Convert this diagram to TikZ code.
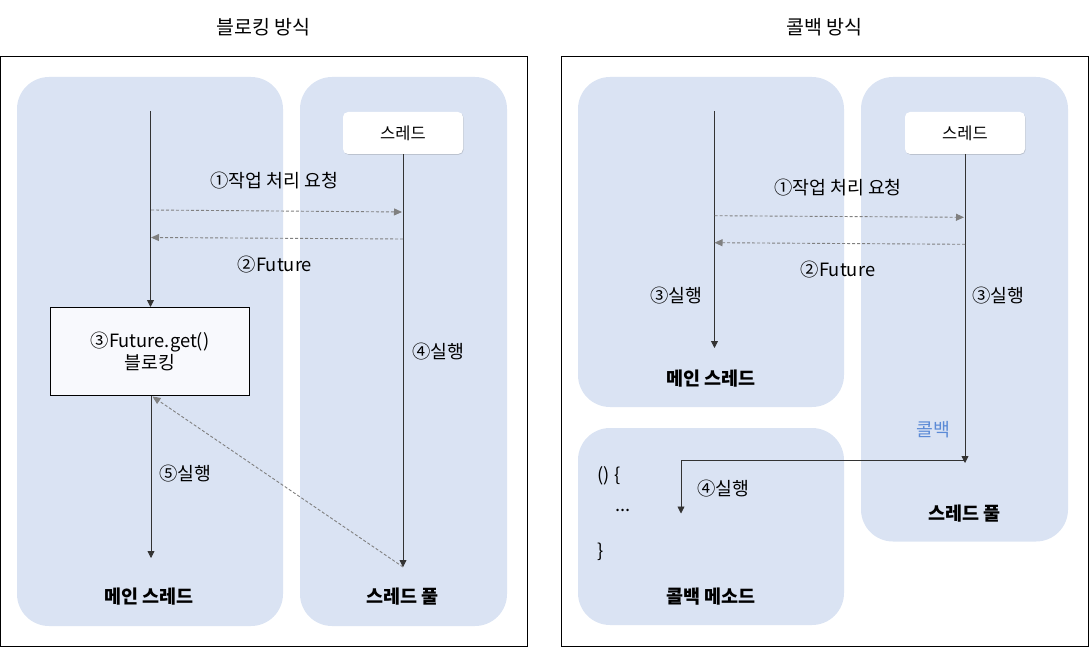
\documentclass[tikz,border=0pt]{standalone}
\usepackage{fontspec}
\setmainfont{Noto Sans CJK KR}
\usetikzlibrary{arrows.meta,shadows}
\definecolor{panelc}{HTML}{DAE3F3}
\definecolor{boxc}{HTML}{F8F9FD}
\definecolor{linec}{HTML}{333333}
\definecolor{dashc}{HTML}{808080}
\definecolor{cbblue}{HTML}{5B8AD6}
\begin{document}
\begin{tikzpicture}[x=1pt,y=-1pt,
  frame/.style={draw=black,line width=1pt},
  panel/.style={fill=panelc,rounded corners=32pt},
  lbl/.style={font=\fontsize{18.3}{21}\selectfont,inner sep=0pt},
  ttl/.style={font=\fontsize{19.5}{23}\selectfont,inner sep=0pt},
  bold/.style={font=\fontsize{18.5}{22}\selectfont\bfseries,inner sep=0pt},
  thr/.style={fill=white,rounded corners=5pt,minimum width=120pt,minimum height=42pt,inner sep=0pt,
    font=\fontsize{16.5}{19}\selectfont,drop shadow={shadow xshift=0.6pt,shadow yshift=-0.8pt,opacity=0.25,fill=black!60}},
  flow/.style={draw=linec,line width=0.8pt,-{Triangle[width=7pt,length=7pt]}},
  dflow/.style={draw=dashc,line width=0.9pt,dash pattern=on 3pt off 2pt,-{Triangle[width=7pt,length=8pt]}},
]
\useasboundingbox (0,0) rectangle (1089,647);
% ---------- left: blocking ----------
\node[ttl] (t1) at (263.6,27) {블로킹 방식};
\draw[frame] (0.5,56.5) rectangle (527,646);
\path[panel] (17,77) rectangle (283,626);
\path[panel] (300,77) rectangle (507,626);
\node[thr] (tb1) at (403,133) {스레드};
\coordinate (ms1) at (150.5,111);
\node[draw=black,line width=1pt,fill=boxc,minimum width=199pt,minimum height=88pt,inner sep=0pt,
  font=\fontsize{18.3}{21.5}\selectfont,align=center] (fbox) at (150,351.5) {③Future.get()\\블로킹};
\draw[flow] (ms1) -- (ms1 |- fbox.north);
\coordinate (me1) at (151,558);
\draw[flow] (151,395.5) -- (me1);
\coordinate (pe1) at (403,567);
\draw[flow] (tb1.south) -- (pe1);
\coordinate (d1s) at (151,210);
\coordinate (d1e) at (402,212);
\draw[dflow] (d1s) -- (d1e);
\coordinate (d2s) at (403,239);
\coordinate (d2e) at (151,237.5);
\draw[dflow] (d2s) -- (d2e);
\coordinate (d3e) at (152.5,396.5);
\draw[dflow] (pe1) -- (d3e);
\node[lbl] (l1) at (274.4,181) {①작업 처리 요청};
\node[lbl] (l2) at (275,265) {②Future};
\node[lbl] (l4) at (438,352) {④실행};
\node[lbl] (l5) at (185,474) {⑤실행};
\node[bold] (mn1) at (149,597) {메인 스레드};
\node[bold] (pl1) at (402.7,597) {스레드 풀};
% ---------- right: callback ----------
\node[ttl] (t2) at (824.5,27) {콜백 방식};
\draw[frame] (561,56.5) rectangle (1088.5,646);
\path[panel] (578,77) rectangle (844,407);
\path[panel] (861,77) rectangle (1068,541.5);
\path[panel] (578,428) rectangle (844,625);
\node[thr] (tb2) at (965,133) {스레드};
\coordinate (ms2) at (714.5,111);
\coordinate (me2) at (714.5,348);
\draw[flow] (ms2) -- (me2);
\coordinate (pe2) at (965,463);
\draw[flow] (tb2.south) -- (pe2);
\coordinate (cbs) at (965,460.3);
\coordinate (cbe) at (681,513.5);
\draw[flow] (cbs) -| (cbe);
\coordinate (r1s) at (714.5,215.7);
\coordinate (r1e) at (964,217.3);
\draw[dflow] (r1s) -- (r1e);
\coordinate (r2s) at (965,244.3);
\coordinate (r2e) at (714.5,242.7);
\draw[dflow] (r2s) -- (r2e);
\node[lbl] (r1) at (838,187.5) {①작업 처리 요청};
\node[lbl] (r2) at (838,270) {②Future};
\node[lbl] (r3a) at (676.4,295.5) {③실행};
\node[lbl] (r3b) at (998.6,295.5) {③실행};
\node[lbl] (r4) at (723.3,488.5) {④실행};
\node[lbl,text=cbblue] (cb) at (933,430) {콜백};
\node[bold] (mn2) at (711,379) {메인 스레드};
\node[bold] (pl2) at (964.6,513.5) {스레드 풀};
\node[bold] (cm) at (711,597) {콜백 메소드};
\node[lbl,anchor=west] (c1) at (597.5,475.7) {() \{};
\node[lbl] (c2) at (623,510.7) {...};
\node[lbl,anchor=west] (c3) at (597.5,551.7) {\}};
\end{tikzpicture}
\end{document}
